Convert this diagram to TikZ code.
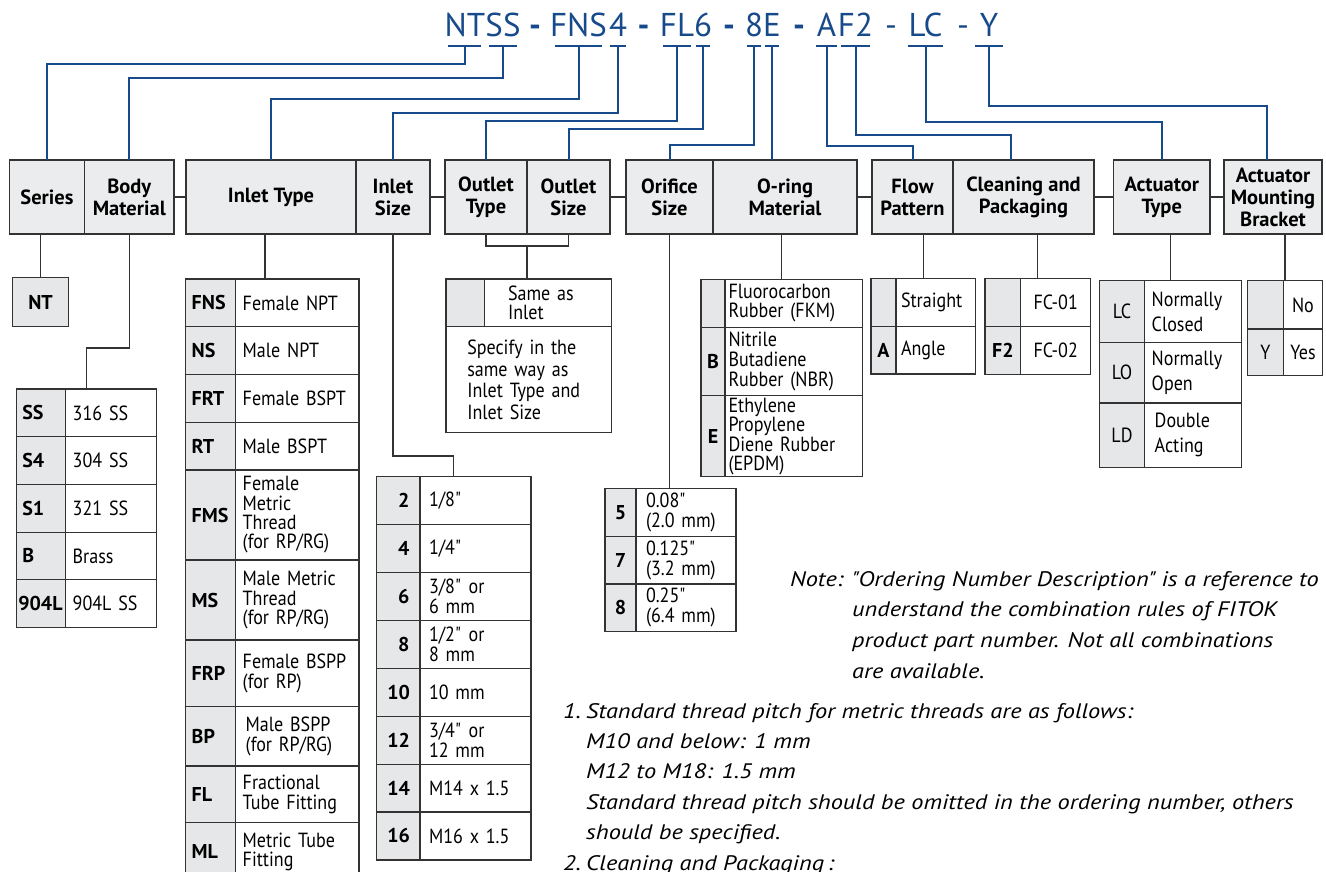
\documentclass[tikz,border=0pt]{standalone}
\usepackage{fontspec}
\setmainfont{PT Sans}
\newfontfamily\descfont{PT Sans}[FakeStretch=0.88]
\newfontfamily\notefont{PT Sans}[FakeStretch=1.16]
\usepackage{tikz}
\usetikzlibrary{positioning,calc}
\definecolor{Primary}{HTML}{333333}
\definecolor{Navy}{HTML}{174A8A}
\definecolor{SoftGray}{HTML}{EBECED}
\definecolor{CodeGray}{HTML}{E6E7E8}

\begin{document}
\begin{tikzpicture}[x=1pt,y=-1pt,
    head/.style={rectangle,draw=Primary,fill=SoftGray,line width=1.2pt,outer sep=0pt,minimum height=74pt,inner sep=1pt,align=center,font=\bfseries\fontsize{20.5}{22}\selectfont},
    code/.style={rectangle,draw=Primary,fill=CodeGray,line width=1.2pt,outer sep=0pt,inner xsep=6pt,inner ysep=0pt,align=center,font=\bfseries\fontsize{20}{20}\selectfont},
    desc/.style={rectangle,draw=Primary,fill=white,line width=1.2pt,outer sep=0pt,inner xsep=7pt,inner ysep=0pt,align=left,font=\descfont\fontsize{20.5}{19.3}\selectfont},
    tie/.style={draw=Primary,line width=1.2pt},
    link/.style={draw=Navy,line width=2pt},
    uline/.style={draw=Navy,line width=2.2pt},
    title/.style={text=Navy,inner sep=0pt,anchor=base,font=\fontsize{33}{33}\selectfont},
    note/.style={inner sep=0pt,align=left,font=\notefont\itshape\fontsize{21}{30.5}\selectfont},
]
\clip (0,0) rectangle (1326,872);

% ordering number
\node[title] (cNT) at (465,36.7) {NT};
\node[title] (cSS) at (503,36.7) {SS};
\node[title] (d1) at (535,36.7) {\textbf{-}};
\node[title] (cFNS) at (578.5,36.7) {FNS};
\node[title] (c4) at (618,36.7) {4};
\node[title] (d2) at (643.5,36.7) {\textbf{-}};
\node[title] (cFL) at (677,36.7) {FL};
\node[title] (c6) at (703,36.7) {6};
\node[title] (d3) at (729,36.7) {\textbf{-}};
\node[title] (c8) at (754,36.7) {8};
\node[title] (cE) at (772,36.7) {E};
\node[title] (d4) at (799,36.7) {\textbf{-}};
\node[title] (cA) at (826.5,36.7) {A};
\node[title] (cF2) at (855.5,36.7) {F2};
\node[title] (d5) at (891,36.7) {-};
\node[title] (cLC) at (925.5,36.7) {LC};
\node[title] (d6) at (963,36.7) {-};
\node[title] (cY) at (989,36.7) {Y};

\draw[uline] (448,46) -- coordinate (uNT) (481,46);
\draw[uline] (489,46) -- coordinate (uSS) (517,46);
\draw[uline] (555,46) -- coordinate (uFNS) (602,46);
\draw[uline] (610,46) -- coordinate (u4) (626,46);
\draw[uline] (663,46) -- coordinate (uFL) (691,46);
\draw[uline] (696,46) -- coordinate (u6) (710,46);
\draw[uline] (747,46) -- coordinate (u8) (761,46);
\draw[uline] (765,46) -- coordinate (uE) (779,46);
\draw[uline] (816,46) -- coordinate (uA) (837,46);
\draw[uline] (841,46) -- coordinate (uF2) (870,46);
\draw[uline] (908,46) -- coordinate (uLC) (943,46);
\draw[uline] (975,46) -- coordinate (uY) (1003,46);

% header row
\node[head,minimum width=75.3pt] (ser) at (46.95,197) {Series};
\node[head,minimum width=89.4pt,right=0pt of ser] (bm) {Body\\Material};
\node[head,minimum width=170pt] (it) at (271,197) {Inlet Type};
\node[head,minimum width=74pt,right=0pt of it] (is) {Inlet\\Size};
\node[head,minimum width=82pt] (ot) at (486,197) {Outlet\\Type};
\node[head,minimum width=83pt,right=0pt of ot] (os) {Outlet\\Size};
\node[head,minimum width=87pt] (ori) at (669.5,197) {Orifice\\Size};
\node[head,minimum width=144pt,right=0pt of ori] (orm) {O-ring\\Material};
\node[head,minimum width=81pt] (fp) at (912.5,197) {Flow\\Pattern};
\node[head,minimum width=141pt,right=0pt of fp] (cp) {Cleaning and\\Packaging};
\node[head,minimum width=96.5pt] (at) at (1161.75,197) {Actuator\\Type};
\node[head,minimum width=98pt] (amb) at (1273,197) {Actuator\\Mounting\\Bracket};

\draw[tie] (bm.east) -- (it.west);
\draw[tie] (is.east) -- (ot.west);
\draw[tie] (os.east) -- (ori.west);
\draw[tie] (orm.east) -- (fp.west);
\draw[tie] (cp.east) -- (at.west);
\draw[tie] (at.east) -- (amb.west);

\draw[link] (uNT) -- ++(0,18) -| (ser.north);
\draw[link] (uSS) -- ++(0,32) -| (bm.north);
\draw[link] (uFNS) -- ++(0,53) -| (it.north);
\draw[link] (u4) -- ++(0,67) -| (is.north);
\draw[link] (uFL) -- ++(0,75) -| (ot.north);
\draw[link] (u6) -- ++(0,83) -| (os.north);
\draw[link] (u8) -- ++(0,99) -| (ori.north);
\draw[link] (uE) -- (uE |- orm.north);
\draw[link] (uA) -- ++(0,100) -| (fp.north);
\draw[link] (uF2) -- ++(0,89) -| (1011,0 |- cp.north);
\draw[link] (uLC) -- ++(0,76) -| (at.north);
\draw[link] (uY) -- ++(0,60) -| (1267,0 |- amb.north);

% series
\node[code,minimum width=56.4pt,minimum height=49pt] (nt) at (40.5,302.2) {NT};

% body material
\begin{scope}[code/.append style={text width=37.4pt,align=left,minimum height=47.7pt},
              desc/.append style={text width=76.6pt,inner xsep=7pt,minimum height=47.7pt}]
\node[code] (bSS) at (41,412.85) {SS};
\node[desc,right=0pt of bSS] (bSSd) {316 SS};
\node[code,below=0pt of bSS] (bS4) {S4};
\node[desc,right=0pt of bS4] (bS4d) {304 SS};
\node[code,below=0pt of bS4] (bS1) {S1};
\node[desc,right=0pt of bS1] (bS1d) {321 SS};
\node[code,below=0pt of bS1] (bB) {B};
\node[desc,right=0pt of bB] (bBd) {Brass};
\node[code,below=0pt of bB,inner xsep=2pt,text width=45.4pt] (b904) {904L};
\node[desc,right=0pt of b904] (b904d) {904L SS};
\end{scope}

% inlet type
\begin{scope}[code/.append style={text width=38pt,align=left},
              desc/.append style={text width=109.3pt}]
\node[code,minimum height=47.7pt] (iFNS) at (210.7,302.85) {FNS};
\node[desc,minimum height=47.7pt,right=0pt of iFNS] (iFNSd) {Female NPT};
\node[code,minimum height=47.6pt,below=0pt of iFNS] (iNS) {NS};
\node[desc,minimum height=47.6pt,right=0pt of iNS] (iNSd) {Male NPT};
\node[code,minimum height=48pt,below=0pt of iNS] (iFRT) {FRT};
\node[desc,minimum height=48pt,right=0pt of iFRT] (iFRTd) {Female BSPT};
\node[code,minimum height=47.7pt,below=0pt of iFRT] (iRT) {RT};
\node[desc,minimum height=47.7pt,right=0pt of iRT] (iRTd) {Male BSPT};
\node[code,minimum height=90pt,below=0pt of iRT] (iFMS) {FMS};
\node[desc,minimum height=90pt,right=0pt of iFMS] (iFMSd) {Female\\Metric\\Thread\\(for RP/RG)};
\node[code,minimum height=80pt,below=0pt of iFMS] (iMS) {MS};
\node[desc,minimum height=80pt,right=0pt of iMS] (iMSd) {Male Metric\\Thread\\(for RP/RG)};
\node[code,minimum height=66.7pt,below=0pt of iMS] (iFRP) {FRP};
\node[desc,minimum height=66.7pt,right=0pt of iFRP] (iFRPd) {Female BSPP\\(for RP)};
\node[code,minimum height=59.3pt,below=0pt of iFRP] (iBP) {BP};
\node[desc,minimum height=59.3pt,right=0pt of iBP,inner xsep=10pt,text width=103.3pt] (iBPd) {Male BSPP\\(for RP/RG)};
\node[code,minimum height=56.7pt,below=0pt of iBP] (iFL) {FL};
\node[desc,minimum height=56.7pt,right=0pt of iFL] (iFLd) {Fractional\\Tube Fitting};
\node[code,minimum height=58pt,below=0pt of iFL] (iML) {ML};
\node[desc,minimum height=58pt,right=0pt of iML] (iMLd) {Metric Tube\\Fitting};
\end{scope}

% inlet size
\begin{scope}[code/.append style={text width=22pt,inner xsep=10.65pt,align=right,minimum height=47.9pt},
              desc/.append style={text width=93pt,inner xsep=9pt,minimum height=47.9pt}]
\node[code] (s2) at (398.35,500.65) {2};
\node[desc,right=0pt of s2] (s2d) {1/8\textquotedbl};
\node[code,below=0pt of s2] (s4) {4};
\node[desc,right=0pt of s4] (s4d) {1/4\textquotedbl};
\node[code,below=0pt of s4] (s6) {6};
\node[desc,right=0pt of s6] (s6d) {3/8\textquotedbl{} or\\6 mm};
\node[code,below=0pt of s6] (s8) {8};
\node[desc,right=0pt of s8] (s8d) {1/2\textquotedbl{} or\\8 mm};
\node[code,below=0pt of s8] (s10) {10};
\node[desc,right=0pt of s10] (s10d) {10 mm};
\node[code,below=0pt of s10] (s12) {12};
\node[desc,right=0pt of s12] (s12d) {3/4\textquotedbl{} or\\12 mm};
\node[code,below=0pt of s12] (s14) {14};
\node[desc,right=0pt of s14] (s14d) {M14 x 1.5};
\node[code,below=0pt of s14] (s16) {16};
\node[desc,right=0pt of s16] (s16d) {M16 x 1.5};
\end{scope}

% outlet
\node[code,minimum width=38.3pt,minimum height=47.7pt] (oc) at (465.15,302.85) {};
\node[desc,minimum height=47.7pt,inner xsep=23.7pt,text width=80pt,right=0pt of oc] (ocd) {Same as\\Inlet};
\node[desc,anchor=north west,minimum height=106pt,inner xsep=21.3pt,text width=123.1pt,
      font=\descfont\fontsize{20.5}{21.7}\selectfont] (ospec) at (oc.south west) {Specify in the\\same way as\\Inlet Type and\\Inlet Size};

% orifice size
\begin{scope}[code/.append style={text width=19pt,minimum height=47.8pt},
              desc/.append style={text width=80pt,inner xsep=10pt,minimum height=47.8pt,font=\descfont\fontsize{20.5}{20}\selectfont}]
\node[code] (r5) at (620.5,512.2) {5};
\node[desc,right=0pt of r5] (r5d) {0.08\textquotedbl\\(2.0 mm)};
\node[code,below=0pt of r5] (r7) {7};
\node[desc,right=0pt of r7] (r7d) {0.125\textquotedbl\\(3.2 mm)};
\node[code,below=0pt of r7] (r8) {8};
\node[desc,right=0pt of r8] (r8d) {0.25\textquotedbl\\(6.4 mm)};
\end{scope}

% o-ring material
\begin{scope}[code/.append style={text width=12pt},
              desc/.append style={text width=130.3pt,inner xsep=3.5pt}]
\node[code,minimum height=48pt] (oFKM) at (713,303.3) {};
\node[desc,minimum height=48pt,right=0pt of oFKM] (oFKMd) {Fluorocarbon\\Rubber (FKM)};
\node[code,minimum height=68.4pt,below=0pt of oFKM] (oB) {B};
\node[desc,minimum height=68.4pt,right=0pt of oB,font=\descfont\fontsize{20.5}{20}\selectfont] (oBd) {Nitrile\\Butadiene\\Rubber (NBR)};
\node[code,minimum height=81pt,below=0pt of oB] (oE) {E};
\node[desc,minimum height=81pt,right=0pt of oE,font=\descfont\fontsize{20.5}{18.7}\selectfont] (oEd) {Ethylene\\Propylene\\Diene Rubber\\(EPDM)};
\end{scope}

% flow pattern
\begin{scope}[code/.append style={text width=13pt},
              desc/.append style={text width=69.7pt,inner xsep=5pt}]
\node[code,minimum height=48.4pt] (fS) at (883.5,302.5) {};
\node[desc,minimum height=48.4pt,right=0pt of fS] (fSd) {Straight};
\node[code,minimum height=47.3pt,below=0pt of fS] (fA) {A};
\node[desc,minimum height=47.3pt,right=0pt of fA] (fAd) {Angle};
\end{scope}

% cleaning and packaging
\begin{scope}[code/.append style={text width=23.7pt},
              desc/.append style={text width=56pt,align=center}]
\node[code,minimum height=48.4pt] (kF1) at (1002.85,302.5) {};
\node[desc,minimum height=48.4pt,right=0pt of kF1] (kF1d) {FC-01};
\node[code,minimum height=47.6pt,below=0pt of kF1] (kF2) {F2};
\node[desc,minimum height=47.6pt,right=0pt of kF2] (kF2d) {FC-02};
\end{scope}

% actuator type
\begin{scope}[code/.append style={text width=33.4pt,font=\descfont\fontsize{20.5}{20}\selectfont},
              desc/.append style={text width=83pt,font=\descfont\fontsize{20.5}{25}\selectfont}]
\node[code,minimum height=61.6pt] (aLC) at (1122,311.5) {LC};
\node[desc,minimum height=61.6pt,right=0pt of aLC] (aLCd) {Normally\\Closed};
\node[code,minimum height=60.7pt,below=0pt of aLC] (aLO) {LO};
\node[desc,minimum height=60.7pt,right=0pt of aLO] (aLOd) {Normally\\Open};
\node[code,minimum height=64.3pt,below=0pt of aLO] (aLD) {LD};
\node[desc,minimum height=64.3pt,right=0pt of aLD,inner xsep=10pt,text width=77pt] (aLDd) {Double\\Acting};
\end{scope}

% mounting bracket
\begin{scope}[code/.append style={text width=24pt,font=\descfont\fontsize{20.5}{20}\selectfont},
              desc/.append style={text width=35.4pt,inner xsep=2pt,align=center}]
\node[code,minimum height=48.3pt] (mN) at (1265.3,304.85) {};
\node[desc,minimum height=48.3pt,right=0pt of mN] (mNd) {No};
\node[code,minimum height=46.7pt,below=0pt of mN] (mY) {Y};
\node[desc,minimum height=46.7pt,right=0pt of mY] (mYd) {Yes};
\end{scope}

% drops from the header row
\coordinate (bTop) at ($(bSS.north west)!0.5!(bSSd.north east)$);
\coordinate (sTop) at ($(s2.north west)!0.5!(s2d.north east)$);
\coordinate (oTop) at ($(oFKM.north west)!0.5!(oFKMd.north east)$);
\coordinate (fTop) at ($(fS.north west)!0.5!(fSd.north east)$);
\coordinate (kTop) at ($(kF1.north west)!0.5!(kF1d.north east)$);
\coordinate (aTop) at ($(aLC.north west)!0.5!(aLCd.north east)$);
\coordinate (mTop) at ($(mN.north west)!0.5!(mNd.north east)$);
\draw[tie] (nt.north) -- (nt.north |- ser.south);
\draw[tie] (bm.south) -- ++(0,114) -| (bTop);
\draw[tie] (265,0 |- it.south) -- (265,0 |- iFNS.north);
\draw[tie] (is.south) -- ++(0,222) -| (sTop);
\draw[tie] (ot.south) -- ++(0,12) -| (os.south);
\draw[tie] ($(ot.south east)+(0,12)$) -- (ot.south east |- oc.north);
\draw[tie] (ori.south) -- (ori.south |- r5.north);
\draw[tie] (orm.south -| oTop) -- (oTop);
\draw[tie] (fp.south -| fTop) -- (fTop);
\draw[tie] (cp.south -| kTop) -- (kTop);
\draw[tie] (at.south -| aTop) -- (aTop);
\draw[tie] (amb.south -| mTop) -- (mTop);

% notes
\node[note,anchor=base west] (noteh) at (790,586) {Note:};
\node[note,anchor=north west,font=\notefont\itshape\fontsize{21}{30.7}\selectfont] (notet) at (852,571)
  {\textquotedbl Ordering Number Description\textquotedbl{} is a reference to\\understand the combination rules of FITOK\\product part number. Not all combinations\\are available.};
\node[note,anchor=base west] (n1) at (563,718) {1.};
\node[note,anchor=base west] (n2) at (563,870) {2.};
\node[note,anchor=north west,font=\notefont\itshape\fontsize{21}{30.4}\selectfont] (items) at (586,703)
  {Standard thread pitch for metric threads are as follows:\\M10 and below: 1 mm\\M12 to M18: 1.5 mm\\Standard thread pitch should be omitted in the ordering number, others\\should be specified.\\Cleaning and Packaging\,:};
\end{tikzpicture}
\end{document}
